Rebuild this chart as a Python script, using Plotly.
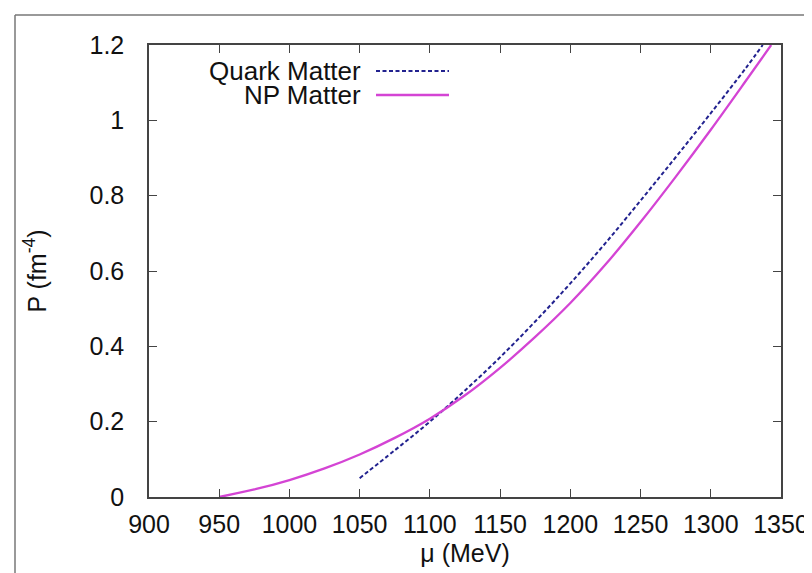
import plotly.graph_objects as go

# Data
np_mu = [950, 975, 1000, 1025, 1050, 1075, 1100, 1125, 1150, 1175, 1200, 1225, 1250, 1275, 1300, 1325, 1343]
np_p = [0.0, 0.02, 0.045, 0.076, 0.113, 0.157, 0.208, 0.27, 0.343, 0.425, 0.515, 0.617, 0.73, 0.85, 0.975, 1.105, 1.2]

qm_mu = [1050, 1075, 1100, 1125, 1150, 1175, 1200, 1225, 1250, 1275, 1300, 1325, 1337]
qm_p = [0.05, 0.124, 0.2, 0.283, 0.371, 0.466, 0.567, 0.674, 0.787, 0.902, 1.019, 1.139, 1.2]

series_names = ["Quark Matter", "NP Matter"]
x_ticks = [900, 950, 1000, 1050, 1100, 1150, 1200, 1250, 1300, 1350]
y_ticks = [0, 0.2, 0.4, 0.6, 0.8, 1.0, 1.2]
y_tick_labels = ["0", "0.2", "0.4", "0.6", "0.8", "1", "1.2"]

BLUE = "#22228f"
PINK = "#d444d4"
FONT = "Liberation Sans"
TXT = "#111111"

fig = go.Figure()
fig.add_trace(go.Scatter(x=qm_mu, y=qm_p, mode="lines", name=series_names[0],
                         line=dict(color=BLUE, width=2, dash="4px,2.5px", shape="spline", smoothing=1.0),
                         showlegend=False))
fig.add_trace(go.Scatter(x=np_mu, y=np_p, mode="lines", name=series_names[1],
                         line=dict(color=PINK, width=2.3, shape="spline", smoothing=1.0),
                         showlegend=False))

L, R, T, B = 141, 39, 37, 84
W, H = 812, 573
pw, ph = W - L - R, H - T - B


def px(xpix):
    return (xpix - L) / pw


def py(ypix):
    return (H - B - ypix) / ph


axis_common = dict(showgrid=False, zeroline=False, showline=True, linecolor="#444444", linewidth=1.5,
                   mirror="ticks", ticks="inside", ticklen=8, tickwidth=1.2, tickcolor="#444444",
                   tickfont=dict(family=FONT, size=25, color=TXT))

fig.update_layout(
    width=W, height=H,
    margin=dict(l=L, r=R, t=T, b=B),
    paper_bgcolor="white", plot_bgcolor="white",
    xaxis=dict(range=[900, 1350], tickvals=x_ticks, ticktext=[str(v) for v in x_ticks],
               ticklabelstandoff=4,
               title=dict(text="μ (MeV)", font=dict(family=FONT, size=25, color=TXT), standoff=8),
               **axis_common),
    yaxis=dict(range=[0, 1.2], tickvals=y_ticks, ticktext=y_tick_labels,
               ticklabelstandoff=18,
               title=dict(text="P (fm<sup>-4</sup>)", font=dict(family=FONT, size=25, color=TXT), standoff=36),
               **axis_common),
)

# gnuplot-style key: text right-aligned, sample line to the right
legend_rows = [(series_names[0], BLUE, "4px,2.5px", 2.0, 63), (series_names[1], PINK, "solid", 2.3, 87)]
for name, col, dash, lw, ypix in legend_rows:
    fig.add_annotation(xref="paper", yref="paper", x=px(354), y=py(ypix), text=name, showarrow=False,
                       xanchor="right", yanchor="middle", borderpad=0,
                       font=dict(family=FONT, size=26, color=TXT))
    fig.add_shape(type="line", xref="paper", yref="paper", x0=px(368), x1=px(441), y0=py(ypix), y1=py(ypix),
                  line=dict(color=col, width=lw, dash=dash))

# partial outer image frame (left and top edges only)
fig.add_shape(type="line", xref="paper", yref="paper", x0=px(7), x1=px(7), y0=py(573), y1=py(7),
              line=dict(color="#777777", width=1.5), layer="below")
fig.add_shape(type="line", xref="paper", yref="paper", x0=px(7), x1=px(812), y0=py(7), y1=py(7),
              line=dict(color="#777777", width=1.5), layer="below")

fig.write_html("out.html")
